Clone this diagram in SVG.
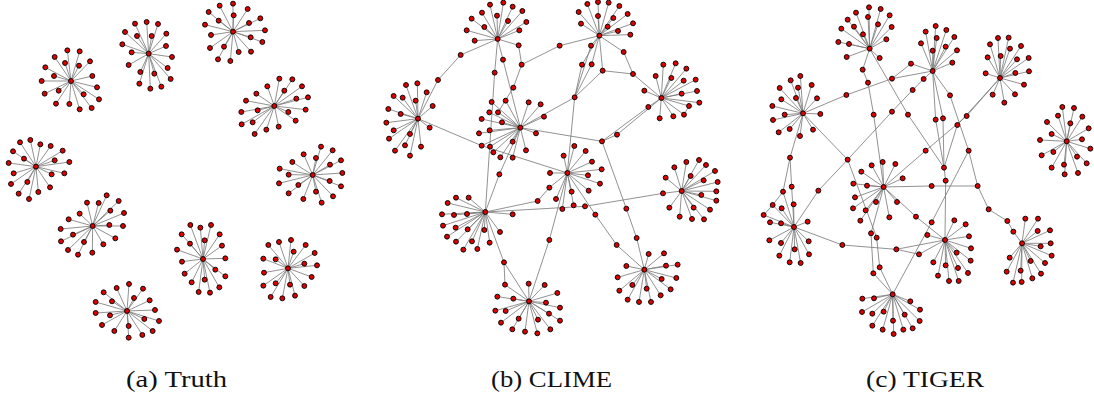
<svg xmlns="http://www.w3.org/2000/svg" width="1094" height="398" viewBox="0 0 1094 398">
<style>
.e path{fill:none;stroke:#7c7c7c;stroke-width:2.5;stroke-linecap:round}
.n circle{r:7.4px;fill:#dd0000;stroke:#000;stroke-width:2.8}
.lbl{font-family:"Liberation Serif","Times New Roman",serif;font-size:24px;fill:#111;text-anchor:middle}
</style>
<rect width="1094" height="398" fill="#fff"/>
<g id="panel-a" transform="scale(.33333)">
<g id="a-edges" class="e">
<path d="M213 243L202 151M213 243L239 154M213 243L164 171M213 243L270 184M213 243L195 189M213 243L237 197M213 243L136 202M213 243L162 228M213 243L277 228M213 243L125 243M213 243L291 262M213 243L176 272M213 243L134 281M213 243L251 283M213 243L297 298M213 243L168 311M213 243L208 312M213 243L275 324M213 243L239 328"/>
<path d="M446 161L405 71M446 161L440 66M446 161L474 72M446 161L375 96M446 161L411 108M446 161L455 108M446 161L499 101M446 161L367 133M446 161L498 138M446 161L395 157M446 161L516 171M446 161L386 195M446 161L503 204M446 161L421 216M446 161L463 221M446 161L512 237M446 161L418 251M446 161L451 266M446 161L484 260"/>
<path d="M699 95L699 11M699 95L659 17M699 95L743 27M699 95L626 36M699 95L701 46M699 95L656 62M699 95L781 55M699 95L747 69M699 95L615 74M699 95L795 91M699 95L633 105M699 95L752 112M699 95L787 126M699 95L630 144M699 95L672 140M699 95L716 156M699 95L753 155M699 95L654 178M699 95L691 183"/>
<path d="M823 318L838 236M823 318L877 238M823 318L802 259M823 318L853 272M823 318L906 259M823 318L769 281M823 318L738 302M823 318L889 296M823 318L924 292M823 318L773 331M823 318L724 336M823 318L865 336M823 318L917 329M823 318L758 367M823 318L725 373M823 318L799 389M823 318L836 380M823 318L887 362M823 318L764 402"/>
<path d="M108 500L91 420M108 500L60 427M108 500L121 433M108 500L152 438M108 500L39 454M108 500L72 476M108 500L188 452M108 500L164 481M108 500L26 489M108 500L208 486M108 500L41 520M108 500L193 520M108 500L155 523M108 500L33 552M108 500L82 546M108 500L150 562M108 500L56 581M108 500L115 576M108 500L87 597"/>
<path d="M938 525L963 440M938 525L911 463M938 525L998 451M938 525L948 474M938 525L877 486M938 525L1023 481M938 525L990 494M938 525L839 506M938 525L1027 519M938 525L866 524M938 525L837 550M938 525L989 543M938 525L1023 559M938 525L895 555M938 525L948 575M938 525L866 580M938 525L910 597M938 525L965 608M938 525L999 589"/>
<path d="M278 678L320 586M278 678L261 608M278 678L296 609M278 678L356 603M278 678L331 632M278 678L239 641M278 678L372 639M278 678L206 658M278 678L328 675M278 678L369 678M278 678L182 687M278 678L219 704M278 678L310 733M278 678L346 715M278 678L183 724M278 678L252 726M278 678L204 750M278 678L234 764M278 678L277 758"/>
<path d="M609 777L571 675M609 777L601 683M609 777L633 675M609 777L659 703M609 777L545 703M609 777L614 721M609 777L570 731M609 777L666 737M609 777L531 749M609 777L546 785M609 777L676 775M609 777L646 809M609 777L554 821M609 777L676 829M609 777L614 839M609 777L575 847M609 777L658 862M609 777L596 876M609 777L630 878"/>
<path d="M864 805L873 720M864 805L837 726M864 805L805 735M864 805L917 735M864 805L881 755M864 805L944 759M864 805L790 776M864 805L827 778M864 805L913 791M864 805L951 796M864 805L792 818M864 805L935 831M864 805L827 850M864 805L870 854M864 805L913 858M864 805L790 857M864 805L812 891M864 805L847 895M864 805L885 887"/>
<path d="M381 933L387 852M381 933L350 864M381 933L429 866M381 933L311 877M381 933L402 894M381 933L336 904M381 933L449 901M381 933L287 906M381 933L465 930M381 933L287 939M381 933L330 946M381 933L433 957M381 933L477 963M381 933L306 975M381 933L386 978M381 933L343 993M381 933L458 993M381 933L427 1005M381 933L386 1013"/>
</g>
<g id="a-nodes" class="n">
<g id="a1"><circle cx="213" cy="243"/><circle cx="202" cy="151"/><circle cx="239" cy="154"/><circle cx="164" cy="171"/><circle cx="270" cy="184"/><circle cx="195" cy="189"/><circle cx="237" cy="197"/><circle cx="136" cy="202"/><circle cx="162" cy="228"/><circle cx="277" cy="228"/><circle cx="125" cy="243"/><circle cx="291" cy="262"/><circle cx="176" cy="272"/><circle cx="134" cy="281"/><circle cx="251" cy="283"/><circle cx="297" cy="298"/><circle cx="168" cy="311"/><circle cx="208" cy="312"/><circle cx="275" cy="324"/><circle cx="239" cy="328"/></g>
<g id="a2"><circle cx="446" cy="161"/><circle cx="405" cy="71"/><circle cx="440" cy="66"/><circle cx="474" cy="72"/><circle cx="375" cy="96"/><circle cx="411" cy="108"/><circle cx="455" cy="108"/><circle cx="499" cy="101"/><circle cx="367" cy="133"/><circle cx="498" cy="138"/><circle cx="395" cy="157"/><circle cx="516" cy="171"/><circle cx="386" cy="195"/><circle cx="503" cy="204"/><circle cx="421" cy="216"/><circle cx="463" cy="221"/><circle cx="512" cy="237"/><circle cx="418" cy="251"/><circle cx="451" cy="266"/><circle cx="484" cy="260"/></g>
<g id="a3"><circle cx="699" cy="95"/><circle cx="699" cy="11"/><circle cx="659" cy="17"/><circle cx="743" cy="27"/><circle cx="626" cy="36"/><circle cx="701" cy="46"/><circle cx="656" cy="62"/><circle cx="781" cy="55"/><circle cx="747" cy="69"/><circle cx="615" cy="74"/><circle cx="795" cy="91"/><circle cx="633" cy="105"/><circle cx="752" cy="112"/><circle cx="787" cy="126"/><circle cx="630" cy="144"/><circle cx="672" cy="140"/><circle cx="716" cy="156"/><circle cx="753" cy="155"/><circle cx="654" cy="178"/><circle cx="691" cy="183"/></g>
<g id="a4"><circle cx="823" cy="318"/><circle cx="838" cy="236"/><circle cx="877" cy="238"/><circle cx="802" cy="259"/><circle cx="853" cy="272"/><circle cx="906" cy="259"/><circle cx="769" cy="281"/><circle cx="738" cy="302"/><circle cx="889" cy="296"/><circle cx="924" cy="292"/><circle cx="773" cy="331"/><circle cx="724" cy="336"/><circle cx="865" cy="336"/><circle cx="917" cy="329"/><circle cx="758" cy="367"/><circle cx="725" cy="373"/><circle cx="799" cy="389"/><circle cx="836" cy="380"/><circle cx="887" cy="362"/><circle cx="764" cy="402"/></g>
<g id="a5"><circle cx="108" cy="500"/><circle cx="91" cy="420"/><circle cx="60" cy="427"/><circle cx="121" cy="433"/><circle cx="152" cy="438"/><circle cx="39" cy="454"/><circle cx="72" cy="476"/><circle cx="188" cy="452"/><circle cx="164" cy="481"/><circle cx="26" cy="489"/><circle cx="208" cy="486"/><circle cx="41" cy="520"/><circle cx="193" cy="520"/><circle cx="155" cy="523"/><circle cx="33" cy="552"/><circle cx="82" cy="546"/><circle cx="150" cy="562"/><circle cx="56" cy="581"/><circle cx="115" cy="576"/><circle cx="87" cy="597"/></g>
<g id="a6"><circle cx="938" cy="525"/><circle cx="963" cy="440"/><circle cx="911" cy="463"/><circle cx="998" cy="451"/><circle cx="948" cy="474"/><circle cx="877" cy="486"/><circle cx="1023" cy="481"/><circle cx="990" cy="494"/><circle cx="839" cy="506"/><circle cx="1027" cy="519"/><circle cx="866" cy="524"/><circle cx="837" cy="550"/><circle cx="989" cy="543"/><circle cx="1023" cy="559"/><circle cx="895" cy="555"/><circle cx="948" cy="575"/><circle cx="866" cy="580"/><circle cx="910" cy="597"/><circle cx="965" cy="608"/><circle cx="999" cy="589"/></g>
<g id="a7"><circle cx="278" cy="678"/><circle cx="320" cy="586"/><circle cx="261" cy="608"/><circle cx="296" cy="609"/><circle cx="356" cy="603"/><circle cx="331" cy="632"/><circle cx="239" cy="641"/><circle cx="372" cy="639"/><circle cx="206" cy="658"/><circle cx="328" cy="675"/><circle cx="369" cy="678"/><circle cx="182" cy="687"/><circle cx="219" cy="704"/><circle cx="310" cy="733"/><circle cx="346" cy="715"/><circle cx="183" cy="724"/><circle cx="252" cy="726"/><circle cx="204" cy="750"/><circle cx="234" cy="764"/><circle cx="277" cy="758"/></g>
<g id="a8"><circle cx="609" cy="777"/><circle cx="571" cy="675"/><circle cx="601" cy="683"/><circle cx="633" cy="675"/><circle cx="659" cy="703"/><circle cx="545" cy="703"/><circle cx="614" cy="721"/><circle cx="570" cy="731"/><circle cx="666" cy="737"/><circle cx="531" cy="749"/><circle cx="546" cy="785"/><circle cx="676" cy="775"/><circle cx="646" cy="809"/><circle cx="554" cy="821"/><circle cx="676" cy="829"/><circle cx="614" cy="839"/><circle cx="575" cy="847"/><circle cx="658" cy="862"/><circle cx="596" cy="876"/><circle cx="630" cy="878"/></g>
<g id="a9"><circle cx="864" cy="805"/><circle cx="873" cy="720"/><circle cx="837" cy="726"/><circle cx="805" cy="735"/><circle cx="917" cy="735"/><circle cx="881" cy="755"/><circle cx="944" cy="759"/><circle cx="790" cy="776"/><circle cx="827" cy="778"/><circle cx="913" cy="791"/><circle cx="951" cy="796"/><circle cx="792" cy="818"/><circle cx="935" cy="831"/><circle cx="827" cy="850"/><circle cx="870" cy="854"/><circle cx="913" cy="858"/><circle cx="790" cy="857"/><circle cx="812" cy="891"/><circle cx="847" cy="895"/><circle cx="885" cy="887"/></g>
<g id="a10"><circle cx="381" cy="933"/><circle cx="387" cy="852"/><circle cx="350" cy="864"/><circle cx="429" cy="866"/><circle cx="311" cy="877"/><circle cx="402" cy="894"/><circle cx="336" cy="904"/><circle cx="449" cy="901"/><circle cx="287" cy="906"/><circle cx="465" cy="930"/><circle cx="287" cy="939"/><circle cx="330" cy="946"/><circle cx="433" cy="957"/><circle cx="477" cy="963"/><circle cx="306" cy="975"/><circle cx="386" cy="978"/><circle cx="343" cy="993"/><circle cx="458" cy="993"/><circle cx="427" cy="1005"/><circle cx="386" cy="1013"/></g>
</g>
</g>
<g id="panel-b" transform="translate(370 0) scale(.33333)">
<g id="b-edges" class="e">
<path d="M383 117L360 14M383 117L400 8M383 117L428 20M383 117L457 33M383 117L336 38M383 117L381 47M383 117L414 63M383 117L305 56M383 117L469 66M383 117L343 81M383 117L448 91M383 117L290 91M383 117L314 122M383 117L446 136"/>
<path d="M688 107L652 12M688 107L684 6M688 107L716 8M688 107L748 18M688 107L626 36M688 107L684 48M688 107L730 54M688 107L773 42M688 107L633 71M688 107L713 80M688 107L789 70M688 107L744 93M688 107L781 104"/>
<path d="M144 356L108 255M144 356L142 250M144 356L71 288M144 356L98 293M144 356L170 277M144 356L137 302M144 356L55 327M144 356L92 342M144 356L188 318M144 356L49 368M144 356L71 391M144 356L120 402M144 356L179 383M144 356L57 416M144 356L105 436M144 356L153 440M144 356L75 452M144 356L120 467"/>
<path d="M451 383L407 302M451 383L476 307M451 383L512 313M451 383L365 306M451 383L384 337M451 383L358 337M451 383L522 350M451 383L335 357M451 383L396 367M451 383L359 391M451 383L327 400M451 383L498 400M451 383L428 425M451 383L335 437M451 383L360 440M451 383L468 451M451 383L370 457M451 383L391 472M451 383L428 473"/>
<path d="M874 294L880 194M874 294L917 190M874 294L857 228M874 294L904 234M874 294L949 206M874 294L941 242M874 294L977 239M874 294L823 272M874 294L935 281M874 294L981 273M874 294L988 308M874 294L957 318M874 294L869 355M874 294L910 349M874 294L942 344M957 318L942 344"/>
<path d="M592 519L613 438M592 519L647 453M592 519L581 467M592 519L666 485M592 519L540 519M592 519L695 508M592 519L654 526M592 519L690 551M592 519L605 575M592 519L656 572M592 519L558 597M592 519L577 627M592 519L611 616"/>
<path d="M346 636L258 593M346 636L296 593M346 636L233 609M346 636L216 643M346 636L252 645M346 636L291 642M346 636L219 677M346 636L257 683M346 636L293 688M346 636L343 690M346 636L231 710M346 636L258 725M346 636L306 724M346 636L322 747M346 636L280 749M346 636L359 728M346 636L390 696M346 636L428 643"/>
<path d="M935 573L913 502M935 573L949 486M935 573L987 480M935 573L1008 495M935 573L1035 513M935 573L962 528M935 573L887 533M935 573L1001 541M935 573L1043 546M935 573L994 585M935 573L1039 574M935 573L1039 602M935 573L971 623M935 573L898 623M935 573L1020 629M935 573L929 650M935 573L966 657M935 573L1002 658"/>
<path d="M477 904L476 851M477 904L524 855M477 904L562 879M477 904L382 890M477 904L430 896M477 904L528 908M477 904L570 923M477 904L376 932M477 904L407 933M477 904L537 941M477 904L446 956M477 904L504 959M477 904L570 962M477 904L393 968M477 904L427 988M477 904L465 995M477 904L502 1000M477 904L541 988"/>
<path d="M823 809L836 762M823 809L882 760M823 809L769 798M823 809L888 797M823 809L923 794M823 809L743 832M823 809L787 855M823 809L875 837M823 809L919 834M823 809L748 872M823 809L830 866M823 809L902 868M823 809L773 899M823 809L807 906M823 809L843 906M823 809L872 886"/>
<path id="b-bridges" d="M383 117L272 165L204 240L144 356M446 136L455 194M383 117L399 179L451 383M383 117L374 218L346 636M455 194L569 137L688 107M455 194L430 263L384 337M688 107L663 137L614 292M688 107L636 194L614 292M688 107L665 193L614 292M688 107L698 212L614 292M698 212L789 222M688 107L761 156L789 222L874 294M614 292L451 383M614 292L592 519M451 383L696 424L741 404L874 294M696 424L835 321L874 294M696 424L769 626L800 714L823 809M144 356L335 437L592 519M451 383L388 523L346 636M346 636L503 603L538 563L592 519M346 636L645 619L879 580L935 573M592 519L676 644L740 735L823 809M346 636L402 787L405 854L477 904M402 787L477 904M477 904L538 720L592 519"/>
</g>
<g id="b-nodes" class="n">
<g id="b1"><circle cx="383" cy="117"/><circle cx="360" cy="14"/><circle cx="400" cy="8"/><circle cx="428" cy="20"/><circle cx="457" cy="33"/><circle cx="336" cy="38"/><circle cx="381" cy="47"/><circle cx="414" cy="63"/><circle cx="305" cy="56"/><circle cx="469" cy="66"/><circle cx="343" cy="81"/><circle cx="448" cy="91"/><circle cx="290" cy="91"/><circle cx="314" cy="122"/><circle cx="446" cy="136"/></g>
<g id="b2"><circle cx="688" cy="107"/><circle cx="652" cy="12"/><circle cx="684" cy="6"/><circle cx="716" cy="8"/><circle cx="748" cy="18"/><circle cx="626" cy="36"/><circle cx="684" cy="48"/><circle cx="730" cy="54"/><circle cx="773" cy="42"/><circle cx="633" cy="71"/><circle cx="713" cy="80"/><circle cx="789" cy="70"/><circle cx="744" cy="93"/><circle cx="781" cy="104"/></g>
<g id="b3"><circle cx="144" cy="356"/><circle cx="108" cy="255"/><circle cx="142" cy="250"/><circle cx="71" cy="288"/><circle cx="98" cy="293"/><circle cx="170" cy="277"/><circle cx="137" cy="302"/><circle cx="55" cy="327"/><circle cx="92" cy="342"/><circle cx="188" cy="318"/><circle cx="49" cy="368"/><circle cx="71" cy="391"/><circle cx="120" cy="402"/><circle cx="179" cy="383"/><circle cx="57" cy="416"/><circle cx="105" cy="436"/><circle cx="153" cy="440"/><circle cx="75" cy="452"/><circle cx="120" cy="467"/></g>
<g id="b4"><circle cx="451" cy="383"/><circle cx="407" cy="302"/><circle cx="476" cy="307"/><circle cx="512" cy="313"/><circle cx="365" cy="306"/><circle cx="384" cy="337"/><circle cx="358" cy="337"/><circle cx="522" cy="350"/><circle cx="335" cy="357"/><circle cx="396" cy="367"/><circle cx="359" cy="391"/><circle cx="327" cy="400"/><circle cx="498" cy="400"/><circle cx="428" cy="425"/><circle cx="335" cy="437"/><circle cx="360" cy="440"/><circle cx="468" cy="451"/><circle cx="370" cy="457"/><circle cx="391" cy="472"/><circle cx="428" cy="473"/></g>
<g id="b5"><circle cx="874" cy="294"/><circle cx="880" cy="194"/><circle cx="917" cy="190"/><circle cx="857" cy="228"/><circle cx="904" cy="234"/><circle cx="949" cy="206"/><circle cx="941" cy="242"/><circle cx="977" cy="239"/><circle cx="823" cy="272"/><circle cx="935" cy="281"/><circle cx="981" cy="273"/><circle cx="988" cy="308"/><circle cx="957" cy="318"/><circle cx="869" cy="355"/><circle cx="910" cy="349"/><circle cx="942" cy="344"/></g>
<g id="b6"><circle cx="592" cy="519"/><circle cx="613" cy="438"/><circle cx="647" cy="453"/><circle cx="581" cy="467"/><circle cx="666" cy="485"/><circle cx="540" cy="519"/><circle cx="695" cy="508"/><circle cx="654" cy="526"/><circle cx="690" cy="551"/><circle cx="605" cy="575"/><circle cx="656" cy="572"/><circle cx="558" cy="597"/><circle cx="577" cy="627"/><circle cx="611" cy="616"/></g>
<g id="b7"><circle cx="346" cy="636"/><circle cx="258" cy="593"/><circle cx="296" cy="593"/><circle cx="233" cy="609"/><circle cx="216" cy="643"/><circle cx="252" cy="645"/><circle cx="291" cy="642"/><circle cx="219" cy="677"/><circle cx="257" cy="683"/><circle cx="293" cy="688"/><circle cx="343" cy="690"/><circle cx="231" cy="710"/><circle cx="258" cy="725"/><circle cx="306" cy="724"/><circle cx="322" cy="747"/><circle cx="280" cy="749"/><circle cx="359" cy="728"/><circle cx="390" cy="696"/><circle cx="428" cy="643"/></g>
<g id="b8"><circle cx="935" cy="573"/><circle cx="913" cy="502"/><circle cx="949" cy="486"/><circle cx="987" cy="480"/><circle cx="1008" cy="495"/><circle cx="1035" cy="513"/><circle cx="962" cy="528"/><circle cx="887" cy="533"/><circle cx="1001" cy="541"/><circle cx="1043" cy="546"/><circle cx="994" cy="585"/><circle cx="1039" cy="574"/><circle cx="1039" cy="602"/><circle cx="971" cy="623"/><circle cx="898" cy="623"/><circle cx="1020" cy="629"/><circle cx="929" cy="650"/><circle cx="966" cy="657"/><circle cx="1002" cy="658"/></g>
<g id="b9"><circle cx="477" cy="904"/><circle cx="476" cy="851"/><circle cx="524" cy="855"/><circle cx="562" cy="879"/><circle cx="382" cy="890"/><circle cx="430" cy="896"/><circle cx="528" cy="908"/><circle cx="570" cy="923"/><circle cx="376" cy="932"/><circle cx="407" cy="933"/><circle cx="537" cy="941"/><circle cx="446" cy="956"/><circle cx="504" cy="959"/><circle cx="570" cy="962"/><circle cx="393" cy="968"/><circle cx="427" cy="988"/><circle cx="465" cy="995"/><circle cx="502" cy="1000"/><circle cx="541" cy="988"/></g>
<g id="b10"><circle cx="823" cy="809"/><circle cx="836" cy="762"/><circle cx="882" cy="760"/><circle cx="769" cy="798"/><circle cx="888" cy="797"/><circle cx="923" cy="794"/><circle cx="743" cy="832"/><circle cx="787" cy="855"/><circle cx="875" cy="837"/><circle cx="919" cy="834"/><circle cx="748" cy="872"/><circle cx="830" cy="866"/><circle cx="902" cy="868"/><circle cx="773" cy="899"/><circle cx="807" cy="906"/><circle cx="843" cy="906"/><circle cx="872" cy="886"/></g>
<g id="b-links"><circle cx="272" cy="165"/><circle cx="204" cy="240"/><circle cx="455" cy="194"/><circle cx="399" cy="179"/><circle cx="374" cy="218"/><circle cx="430" cy="263"/><circle cx="569" cy="137"/><circle cx="663" cy="137"/><circle cx="636" cy="194"/><circle cx="665" cy="193"/><circle cx="698" cy="212"/><circle cx="761" cy="156"/><circle cx="789" cy="222"/><circle cx="614" cy="292"/><circle cx="696" cy="424"/><circle cx="741" cy="404"/><circle cx="835" cy="321"/><circle cx="388" cy="523"/><circle cx="503" cy="603"/><circle cx="538" cy="563"/><circle cx="645" cy="619"/><circle cx="879" cy="580"/><circle cx="676" cy="644"/><circle cx="740" cy="735"/><circle cx="769" cy="626"/><circle cx="800" cy="714"/><circle cx="402" cy="787"/><circle cx="405" cy="854"/><circle cx="538" cy="720"/></g>
</g>
</g>
<g id="panel-c" transform="translate(750 0) scale(.33333)">
<g id="c-edges" class="e">
<path d="M359 146L357 22M359 146L392 27M359 146L318 38M359 146L354 51M359 146L419 46M359 146L293 59M359 146L384 73M359 146L425 81M359 146L274 86M359 146L312 80M359 146L339 103M359 146L409 118M359 146L265 126M359 146L297 132M359 146L290 171M359 146L389 174"/>
<path d="M548 213L557 78M548 213L527 95M548 213L589 90M548 213L613 111M548 213L560 114M548 213L513 130M548 213L587 140M548 213L548 152M548 213L621 151M548 213L607 188"/>
<path d="M750 234L744 114M750 234L776 113M750 234L720 133M750 234L752 168M750 234L780 146M750 234L813 138M750 234L713 172M750 234L801 178M750 234L836 174M750 234L796 219M750 234L837 214M750 234L707 220M750 234L822 254M750 234L795 283M750 234L763 308M750 234L728 284"/>
<path d="M950 424L937 321M950 424L972 324M950 424L924 347M950 424L961 370M950 424L997 350M950 424L891 366M950 424L905 402M950 424L1016 385M950 424L870 420M950 424L996 418M950 424L1021 446M950 424L875 466M950 424L910 456M950 424L981 470M950 424L1010 490M950 424L942 494M950 424L905 503M950 424L944 523M950 424L984 519"/>
<path d="M159 340L151 228M159 340L122 241M159 340L185 255M159 340L144 263M159 340L89 264M159 340L94 298M159 340L201 295M159 340L138 294M159 340L67 318M159 340L104 344M159 340L211 342M159 340L69 360M159 340L189 389M159 340L119 387M159 340L86 397M159 340L150 408"/>
<path d="M132 681L131 613M132 681L95 625M132 681L41 645M132 681L60 667M132 681L93 670M132 681L173 665M132 681L58 721M132 681L93 729M132 681L176 724M132 681L134 748M132 681L88 767M132 681L177 763M132 681L119 787M132 681L152 789"/>
<path d="M401 561L334 515M401 561L365 496M401 561L398 486M401 561L436 492M401 561L458 535M401 561L310 551M401 561L351 557M401 561L315 592M401 561L309 625M401 561L347 631M401 561L378 606M401 561L331 662M401 561L441 606M401 561L418 652"/>
<path d="M585 720L613 661M585 720L647 673M585 720L532 705M585 720L657 709M585 720L663 745M585 720L550 787M585 720L620 758M585 720L662 782M585 720L587 796M585 720L564 827M585 720L624 804M585 720L597 843M585 720L626 843M585 720L654 819"/>
<path d="M428 883L337 896M428 883L372 895M428 883L481 904M428 883L510 929M428 883L336 936M428 883L367 941M428 883L401 935M428 883L464 944M428 883L509 963M428 883L367 977M428 883L429 962M428 883L398 989M428 883L460 989M428 883L488 985M428 883L431 1002"/>
<path d="M816 730L826 656M816 730L864 656M816 730L900 691M816 730L863 693M816 730L872 739M816 730L902 730M816 730L779 773M816 730L905 767M816 730L842 783M816 730L885 789M816 730L770 815M816 730L812 812M816 730L847 835M816 730L873 821M816 730L789 848M816 730L815 846"/>
<path id="c-bridges" d="M159 340L289 285L426 236L548 213M548 213L483 191L426 236M548 213L521 237L488 270L426 335L293 479L205 572L132 681M159 340L293 479L380 713L389 802L428 883M359 146L338 209L354 248L371 344L401 561M401 561L363 700L370 820L428 883M359 146L474 344L582 503L587 542L585 720M548 213L557 359L582 503M548 213L579 355L582 503M548 213L600 286L656 452L683 558L716 628L772 663L790 695L816 730M656 452L545 667L428 883M750 234L650 348L527 452L401 561M750 234L622 375L582 503M401 561L545 558L683 558M401 561L498 650L585 720M159 340L120 473L99 575L132 681M120 473L125 560L132 681M99 575L68 615L132 681M68 615L41 645M132 681L277 735L439 748L507 763L585 720M439 748L585 720"/>
</g>
<g id="c-nodes" class="n">
<g id="c1"><circle cx="359" cy="146"/><circle cx="357" cy="22"/><circle cx="392" cy="27"/><circle cx="318" cy="38"/><circle cx="354" cy="51"/><circle cx="419" cy="46"/><circle cx="293" cy="59"/><circle cx="384" cy="73"/><circle cx="425" cy="81"/><circle cx="274" cy="86"/><circle cx="312" cy="80"/><circle cx="339" cy="103"/><circle cx="409" cy="118"/><circle cx="265" cy="126"/><circle cx="297" cy="132"/><circle cx="290" cy="171"/><circle cx="389" cy="174"/></g>
<g id="c2"><circle cx="548" cy="213"/><circle cx="557" cy="78"/><circle cx="527" cy="95"/><circle cx="589" cy="90"/><circle cx="613" cy="111"/><circle cx="560" cy="114"/><circle cx="513" cy="130"/><circle cx="587" cy="140"/><circle cx="548" cy="152"/><circle cx="621" cy="151"/><circle cx="607" cy="188"/></g>
<g id="c3"><circle cx="750" cy="234"/><circle cx="744" cy="114"/><circle cx="776" cy="113"/><circle cx="720" cy="133"/><circle cx="752" cy="168"/><circle cx="780" cy="146"/><circle cx="813" cy="138"/><circle cx="713" cy="172"/><circle cx="801" cy="178"/><circle cx="836" cy="174"/><circle cx="796" cy="219"/><circle cx="837" cy="214"/><circle cx="707" cy="220"/><circle cx="822" cy="254"/><circle cx="795" cy="283"/><circle cx="763" cy="308"/><circle cx="728" cy="284"/></g>
<g id="c4"><circle cx="950" cy="424"/><circle cx="937" cy="321"/><circle cx="972" cy="324"/><circle cx="924" cy="347"/><circle cx="961" cy="370"/><circle cx="997" cy="350"/><circle cx="891" cy="366"/><circle cx="905" cy="402"/><circle cx="1016" cy="385"/><circle cx="870" cy="420"/><circle cx="996" cy="418"/><circle cx="1021" cy="446"/><circle cx="875" cy="466"/><circle cx="910" cy="456"/><circle cx="981" cy="470"/><circle cx="1010" cy="490"/><circle cx="942" cy="494"/><circle cx="905" cy="503"/><circle cx="944" cy="523"/><circle cx="984" cy="519"/></g>
<g id="c5"><circle cx="159" cy="340"/><circle cx="151" cy="228"/><circle cx="122" cy="241"/><circle cx="185" cy="255"/><circle cx="144" cy="263"/><circle cx="89" cy="264"/><circle cx="94" cy="298"/><circle cx="201" cy="295"/><circle cx="138" cy="294"/><circle cx="67" cy="318"/><circle cx="104" cy="344"/><circle cx="211" cy="342"/><circle cx="69" cy="360"/><circle cx="189" cy="389"/><circle cx="119" cy="387"/><circle cx="86" cy="397"/><circle cx="150" cy="408"/></g>
<g id="c6"><circle cx="132" cy="681"/><circle cx="131" cy="613"/><circle cx="95" cy="625"/><circle cx="41" cy="645"/><circle cx="60" cy="667"/><circle cx="93" cy="670"/><circle cx="173" cy="665"/><circle cx="58" cy="721"/><circle cx="93" cy="729"/><circle cx="176" cy="724"/><circle cx="134" cy="748"/><circle cx="88" cy="767"/><circle cx="177" cy="763"/><circle cx="119" cy="787"/><circle cx="152" cy="789"/></g>
<g id="c7"><circle cx="401" cy="561"/><circle cx="334" cy="515"/><circle cx="365" cy="496"/><circle cx="398" cy="486"/><circle cx="436" cy="492"/><circle cx="458" cy="535"/><circle cx="310" cy="551"/><circle cx="351" cy="557"/><circle cx="315" cy="592"/><circle cx="309" cy="625"/><circle cx="347" cy="631"/><circle cx="378" cy="606"/><circle cx="331" cy="662"/><circle cx="441" cy="606"/><circle cx="418" cy="652"/></g>
<g id="c8"><circle cx="585" cy="720"/><circle cx="613" cy="661"/><circle cx="647" cy="673"/><circle cx="532" cy="705"/><circle cx="657" cy="709"/><circle cx="663" cy="745"/><circle cx="550" cy="787"/><circle cx="620" cy="758"/><circle cx="662" cy="782"/><circle cx="587" cy="796"/><circle cx="564" cy="827"/><circle cx="624" cy="804"/><circle cx="597" cy="843"/><circle cx="626" cy="843"/><circle cx="654" cy="819"/></g>
<g id="c9"><circle cx="428" cy="883"/><circle cx="337" cy="896"/><circle cx="372" cy="895"/><circle cx="481" cy="904"/><circle cx="510" cy="929"/><circle cx="336" cy="936"/><circle cx="367" cy="941"/><circle cx="401" cy="935"/><circle cx="464" cy="944"/><circle cx="509" cy="963"/><circle cx="367" cy="977"/><circle cx="429" cy="962"/><circle cx="398" cy="989"/><circle cx="460" cy="989"/><circle cx="488" cy="985"/><circle cx="431" cy="1002"/></g>
<g id="c10"><circle cx="816" cy="730"/><circle cx="826" cy="656"/><circle cx="864" cy="656"/><circle cx="900" cy="691"/><circle cx="863" cy="693"/><circle cx="872" cy="739"/><circle cx="902" cy="730"/><circle cx="779" cy="773"/><circle cx="905" cy="767"/><circle cx="842" cy="783"/><circle cx="885" cy="789"/><circle cx="770" cy="815"/><circle cx="812" cy="812"/><circle cx="847" cy="835"/><circle cx="873" cy="821"/><circle cx="789" cy="848"/><circle cx="815" cy="846"/></g>
<g id="c-links"><circle cx="338" cy="209"/><circle cx="354" cy="248"/><circle cx="371" cy="344"/><circle cx="474" cy="344"/><circle cx="289" cy="285"/><circle cx="426" cy="236"/><circle cx="483" cy="191"/><circle cx="521" cy="237"/><circle cx="488" cy="270"/><circle cx="426" cy="335"/><circle cx="293" cy="479"/><circle cx="205" cy="572"/><circle cx="600" cy="286"/><circle cx="656" cy="452"/><circle cx="683" cy="558"/><circle cx="716" cy="628"/><circle cx="772" cy="663"/><circle cx="790" cy="695"/><circle cx="545" cy="667"/><circle cx="557" cy="359"/><circle cx="579" cy="355"/><circle cx="582" cy="503"/><circle cx="587" cy="542"/><circle cx="650" cy="348"/><circle cx="527" cy="452"/><circle cx="622" cy="375"/><circle cx="120" cy="473"/><circle cx="99" cy="575"/><circle cx="125" cy="560"/><circle cx="68" cy="615"/><circle cx="277" cy="735"/><circle cx="439" cy="748"/><circle cx="507" cy="763"/><circle cx="545" cy="558"/><circle cx="498" cy="650"/><circle cx="363" cy="700"/><circle cx="380" cy="713"/><circle cx="370" cy="820"/><circle cx="389" cy="802"/></g>
</g>
</g>
<g id="labels">
<text class="lbl" x="176.5" y="387" textLength="101" lengthAdjust="spacingAndGlyphs">(a) Truth</text>
<text class="lbl" x="551.5" y="387" textLength="121" lengthAdjust="spacingAndGlyphs">(b) CLIME</text>
<text class="lbl" x="925" y="387" textLength="118" lengthAdjust="spacingAndGlyphs">(c) TIGER</text>
</g>
</svg>
